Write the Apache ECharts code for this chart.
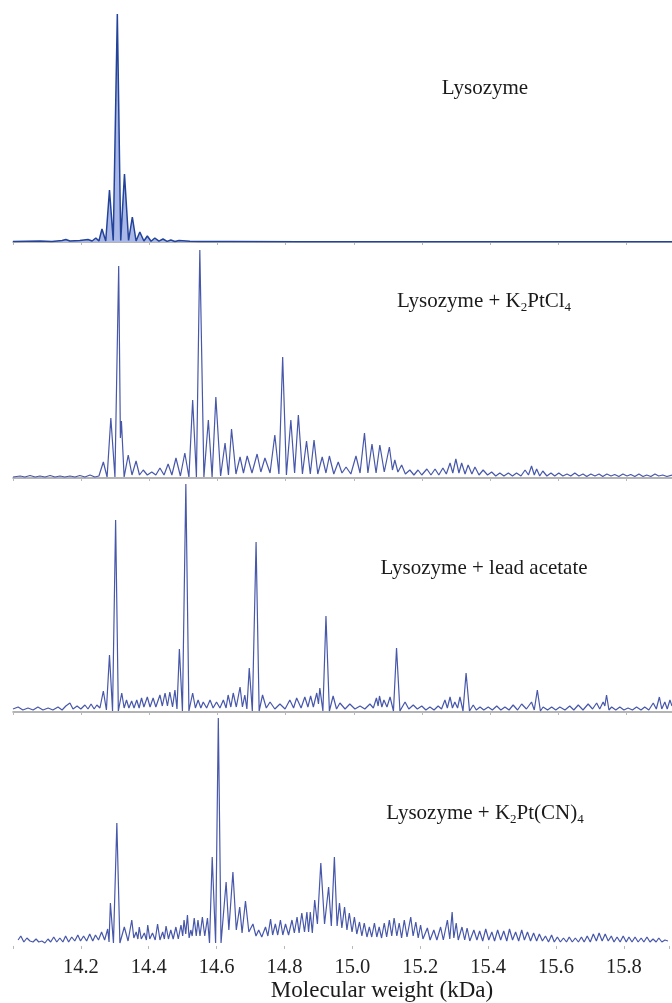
<!DOCTYPE html>
<html><head><meta charset="utf-8">
<script src="https://cdn.jsdelivr.net/npm/echarts@6/dist/echarts.min.js"></script>
<style>html,body{margin:0;padding:0;background:#fff}#c{width:672px;height:1003px}</style>
</head><body><div id="c"></div>
<script>
// ---------- data (mass in kDa, intensity in arbitrary units) ----------
const xTickLabels = ['14.2','14.4','14.6','14.8','15.0','15.2','15.4','15.6','15.8'];
const xAxisTitle = 'Molecular weight (kDa)';
const panelLabels = ['Lysozyme', 'Lysozyme + K{s|2}PtCl{s|4}', 'Lysozyme + lead acetate', 'Lysozyme + K{s|2}Pt(CN){s|4}'];

const lysoMass = [14.000,14.079,14.114,14.144,14.155,14.167,14.196,14.220,14.232,14.243,
  14.252,14.261,14.272,14.283,14.294,14.306,14.316,14.327,14.339,14.350,
  14.361,14.372,14.384,14.394,14.405,14.416,14.428,14.440,14.452,14.463,
  14.475,14.487,14.519,14.548,14.636,14.842,15.135,15.428,15.933];
const lysoInt = [0.5,1,0.5,1.5,2.5,1,1.5,2.5,1,4,
  1,13,1,52,1.5,228,1.5,68,1.5,25,
  1,10,1,6,0.8,4,0.8,3,0.6,2,
  0.5,1.5,0.8,0.5,0.5,0.3,0.3,0.3,0.3];

const ptclMass = [14.000,14.021,14.035,14.050,14.065,14.079,14.094,14.109,14.123,14.138,
  14.152,14.167,14.182,14.196,14.211,14.226,14.240,14.252,14.265,14.276,
  14.287,14.299,14.310,14.315,14.318,14.326,14.338,14.349,14.361,14.371,
  14.382,14.394,14.407,14.419,14.431,14.443,14.455,14.466,14.478,14.491,
  14.504,14.516,14.527,14.538,14.548,14.560,14.573,14.584,14.595,14.609,
  14.622,14.632,14.641,14.654,14.666,14.676,14.687,14.701,14.716,14.727,
  14.739,14.754,14.768,14.780,14.791,14.802,14.815,14.826,14.837,14.849,
  14.861,14.872,14.883,14.894,14.907,14.918,14.928,14.941,14.954,14.965,
  14.977,14.991,15.006,15.018,15.031,15.041,15.053,15.065,15.076,15.089,
  15.104,15.113,15.120,15.129,15.140,15.151,15.164,15.176,15.188,15.199,
  15.214,15.226,15.238,15.249,15.261,15.271,15.282,15.290,15.299,15.308,
  15.316,15.326,15.335,15.346,15.355,15.367,15.379,15.392,15.404,15.416,
  15.428,15.440,15.453,15.465,15.477,15.490,15.502,15.512,15.521,15.529,
  15.536,15.545,15.554,15.566,15.578,15.589,15.601,15.613,15.625,15.636,
  15.648,15.660,15.672,15.683,15.695,15.707,15.719,15.730,15.742,15.754,
  15.765,15.777,15.789,15.801,15.812,15.824,15.836,15.848,15.859,15.871,
  15.883,15.894,15.906,15.918,15.933];
const ptclInt = [1,2,1,2.5,1,2,1,2.5,1,2,
  1,2,1,2.5,1,3,1,2,16,1,
  60,1,212,40,57,1,23,3,17,3,
  8,3,6,3,10,3,14,3,20,2,
  25,1,78,1,228,1,58,1,81,2,
  35,3,49,4,21,5,22,5,24,6,
  20,5,43,4,121,3,58,5,63,4,
  37,4,38,4,21,5,22,4,16,5,
  11,4,22,5,45,5,34,5,33,6,
  31,8,18,6,13,4,8,3,8,3,
  9,3,9,3,10,4,15,5,19,5,
  15,4,13,4,11,3,8,3,6,2,
  5,2,5,2,5,2,8,3,12,3,
  9,2,7,2,5,2,5,2,4,2,
  5,2,4,1.5,4,2,4,1.5,4,2,
  3.5,1.5,4,2,3.5,1.5,4,1.5,3,1.5,
  4,2,3,1.5,3];

const leadMass = [14.000,14.015,14.029,14.044,14.059,14.073,14.088,14.103,14.117,14.132,
  14.144,14.155,14.167,14.176,14.188,14.199,14.211,14.220,14.229,14.238,
  14.246,14.255,14.265,14.274,14.283,14.292,14.301,14.309,14.319,14.326,
  14.333,14.340,14.348,14.355,14.363,14.370,14.377,14.384,14.394,14.402,
  14.411,14.419,14.431,14.438,14.446,14.453,14.460,14.468,14.475,14.481,
  14.488,14.497,14.507,14.516,14.527,14.535,14.543,14.551,14.558,14.568,
  14.578,14.587,14.597,14.607,14.617,14.625,14.631,14.639,14.646,14.655,
  14.666,14.673,14.680,14.686,14.693,14.702,14.713,14.722,14.732,14.743,
  14.754,14.768,14.783,14.798,14.812,14.823,14.832,14.845,14.856,14.865,
  14.873,14.881,14.891,14.896,14.900,14.909,14.918,14.928,14.939,14.949,
  14.959,14.974,14.988,15.003,15.018,15.032,15.047,15.057,15.066,15.071,
  15.075,15.082,15.088,15.097,15.106,15.116,15.125,15.135,15.150,15.161,
  15.174,15.186,15.199,15.211,15.223,15.235,15.247,15.257,15.267,15.274,
  15.282,15.289,15.296,15.304,15.311,15.320,15.329,15.339,15.350,15.359,
  15.370,15.381,15.394,15.406,15.419,15.431,15.443,15.455,15.467,15.480,
  15.492,15.506,15.521,15.529,15.538,15.547,15.555,15.568,15.580,15.592,
  15.604,15.619,15.633,15.645,15.658,15.672,15.687,15.700,15.712,15.721,
  15.731,15.736,15.741,15.748,15.756,15.768,15.780,15.792,15.804,15.817,
  15.829,15.842,15.853,15.865,15.878,15.887,15.896,15.903,15.912,15.919,
  15.927,15.933];
const leadInt = [3,5,2,4,2,5,2,4,2,5,
  2,6,9,3,6,3,7,3,8,3,
  7,4,21,2,57,1,192,1,19,4,
  12,4,11,4,12,4,14,5,15,5,
  14,5,17,6,19,6,20,5,22,3,
  63,1,228,1,19,4,12,4,10,4,
  12,4,10,4,12,4,17,5,19,5,
  25,5,17,3,44,1,170,1,17,4,
  10,3,8,3,12,4,14,4,15,5,
  16,5,19,8,24,1,96,1,16,3,
  9,3,8,3,6,3,8,4,14,6,
  16,5,12,5,15,1,64,1,10,3,
  7,3,6,2,5,2,6,3,12,4,
  15,4,10,4,15,1,39,1,7,2,
  5,2,5,2,6,2,5,2,7,2,
  8,3,10,2,22,1,5,2,5,2,
  5,2,6,2,7,2,8,3,9,3,
  10,6,17,2,5,2,5,2,4,2,
  5,2,5,2,9,3,15,3,10,3,
  12,6];

const ptcnMass = [14.015,14.023,14.032,14.041,14.050,14.059,14.068,14.076,14.085,14.094,
  14.103,14.111,14.120,14.129,14.138,14.147,14.155,14.164,14.173,14.182,
  14.191,14.199,14.208,14.217,14.226,14.235,14.243,14.252,14.261,14.270,
  14.279,14.283,14.287,14.296,14.306,14.315,14.328,14.339,14.350,14.356,
  14.363,14.368,14.372,14.378,14.387,14.393,14.397,14.403,14.411,14.419,
  14.426,14.433,14.441,14.446,14.451,14.458,14.465,14.472,14.480,14.487,
  14.495,14.500,14.504,14.509,14.514,14.519,14.524,14.528,14.534,14.540,
  14.545,14.551,14.558,14.565,14.573,14.579,14.587,14.597,14.605,14.613,
  14.628,14.636,14.648,14.658,14.668,14.675,14.685,14.695,14.707,14.716,
  14.724,14.733,14.744,14.751,14.759,14.765,14.773,14.780,14.788,14.795,
  14.803,14.812,14.822,14.829,14.837,14.843,14.851,14.859,14.866,14.871,
  14.876,14.882,14.889,14.897,14.907,14.918,14.930,14.938,14.947,14.955,
  14.962,14.969,14.977,14.984,14.991,14.999,15.006,15.013,15.021,15.028,
  15.035,15.043,15.050,15.057,15.065,15.072,15.079,15.086,15.094,15.101,
  15.109,15.116,15.123,15.131,15.138,15.145,15.153,15.161,15.172,15.179,
  15.187,15.194,15.201,15.208,15.221,15.229,15.240,15.249,15.260,15.268,
  15.280,15.287,15.294,15.299,15.306,15.312,15.323,15.331,15.338,15.346,
  15.358,15.367,15.375,15.384,15.393,15.402,15.411,15.419,15.428,15.437,
  15.446,15.455,15.463,15.472,15.481,15.490,15.499,15.507,15.516,15.525,
  15.534,15.543,15.551,15.560,15.569,15.578,15.587,15.595,15.604,15.613,
  15.622,15.631,15.639,15.648,15.657,15.666,15.675,15.683,15.692,15.701,
  15.710,15.719,15.727,15.736,15.745,15.754,15.763,15.771,15.780,15.789,
  15.798,15.807,15.815,15.824,15.833,15.842,15.851,15.859,15.868,15.877,
  15.886,15.895,15.903,15.912,15.921,15.930];
const ptcnInt = [6,10,4,8,5,4,7,4,5,3,
  7,4,9,4,8,4,10,4,9,5,
  11,5,10,5,12,5,11,6,14,6,
  17,4,43,3,123,3,19,5,26,8,
  14,7,19,7,13,6,21,7,13,6,
  22,6,14,7,20,7,16,7,19,7,
  21,10,26,12,31,8,16,10,28,10,
  26,10,29,10,28,3,89,3,228,3,
  64,16,74,16,39,13,45,14,22,10,
  16,9,19,10,27,11,22,11,26,11,
  22,11,26,13,29,13,33,14,34,14,
  34,13,46,22,83,22,59,20,89,20,
  43,18,39,16,33,14,29,12,24,10,
  23,9,19,9,23,9,19,8,23,9,
  26,10,28,10,23,8,26,9,29,10,
  24,8,21,7,18,6,16,6,19,6,
  26,7,34,8,23,6,19,6,18,5,
  16,6,15,5,17,6,14,5,16,6,
  15,5,17,6,14,5,16,6,14,5,
  13,5,12,5,10,4,11,4,9,4,
  8,4,9,4,8,4,9,4,10,4,
  12,5,13,5,12,5,10,4,9,4,
  10,4,9,4,9,4,8,4,9,4,
  7,4,8,4,6,5];

// ---------- chart ----------
const spectra = [
  [lysoMass, lysoInt],
  [ptclMass, ptclInt],
  [leadMass, leadInt],
  [ptcnMass, ptcnInt]
];
const pair = (m, v) => m.map((x, i) => [x, v[i]]);

const serif = 'Liberation Serif, Times New Roman, serif';
const gridTops = [14, 250, 484, 718];
const labelPos = [[485, 88], [484, 301], [484, 568], [485, 813]];

const option = {
  animation: false,
  backgroundColor: '#ffffff',
  grid: gridTops.map(t => ({ left: 13, right: 0, top: t, height: 228 })),
  xAxis: gridTops.map((t, i) => ({
    type: 'value', gridIndex: i, min: 14.0, max: 15.933, interval: 0.2,
    splitLine: { show: false },
    axisLine: { show: i < 3, onZero: false, lineStyle: { color: '#9c9c9c', width: 1.5 } },
    axisTick: { show: true, length: 3, lineStyle: { color: '#b8b8b8' } },
    axisLabel: i < 3 ? { show: false } : {
      show: true, margin: 11, color: '#222', fontFamily: serif, fontSize: 20.5,
      formatter: v => { const s = v.toFixed(1); return xTickLabels.includes(s) ? s : ''; }
    }
  })),
  yAxis: gridTops.map((t, i) => ({
    type: 'value', gridIndex: i, min: 0, max: 228, show: false, splitLine: { show: false }
  })),
  series: spectra.map((s, i) => ({
    type: 'line', xAxisIndex: i, yAxisIndex: i, data: pair(s[0], s[1]),
    showSymbol: false, symbol: 'none', sampling: null, z: 3,
    lineStyle: i === 0 ? { color: '#23439a', width: 1.5 } : { color: '#4757aa', width: 1.2 },
    areaStyle: i === 0 ? { color: '#a9b8e6', opacity: 1 } : undefined
  })),
  graphic: panelLabels.map((txt, i) => ({
    type: 'text', x: labelPos[i][0], y: labelPos[i][1], z: 10,
    style: {
      text: txt, fill: '#1a1a1a', fontFamily: serif, fontSize: 21, lineHeight: 26,
      align: 'center', verticalAlign: 'middle',
      rich: { s: { fontSize: 13, fontFamily: serif, fill: '#1a1a1a', verticalAlign: 'bottom' } }
    }
  })).concat([{
    type: 'text', x: 382, y: 991, z: 10,
    style: { text: xAxisTitle, fill: '#1a1a1a', fontFamily: serif, fontSize: 23, align: 'center', verticalAlign: 'middle' }
  }])
};

const chart = echarts.init(document.getElementById('c'), null, { renderer: 'canvas' });
chart.setOption(option);
</script>
</body></html>
